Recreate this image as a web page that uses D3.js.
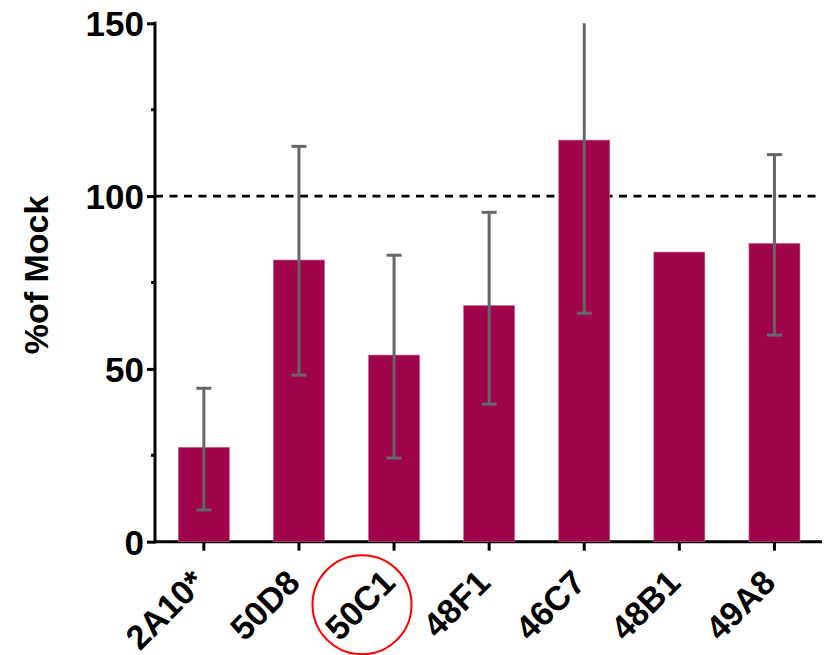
<!DOCTYPE html>
<html>
<head>
<meta charset="utf-8">
<script src="https://cdnjs.cloudflare.com/ajax/libs/d3/7.8.5/d3.min.js"></script>
<style>
  body { margin: 0; background: #fff; }
  svg text { font-family: Arial, "Liberation Sans", sans-serif; font-weight: bold; }
</style>
</head>
<body>
<svg id="chart" width="827" height="655"></svg>
<script>
// data
const categories = ['2A10*', '50D8', '50C1', '48F1', '46C7', '48B1', '49A8'];
const means = [27.3, 81.5, 54.0, 68.3, 116.2, 83.8, 86.3];
const errLow = [9.2, 48.2, 24.2, 39.8, 66.1, null, 59.8];
const errHigh = [44.4, 114.4, 82.9, 95.3, 166.3, null, 112.0];
const yTicks = [0, 50, 100, 150];
const yMinorTicks = [25, 75, 125];
const refLine = 100;
const circled = '50C1';

const width = 827, height = 655;
const margin = { top: 23.3, right: 5, bottom: 113.3, left: 155 };
const svg = d3.select('#chart');

const x = d3.scaleBand()
  .domain(categories)
  .range([margin.left + 1.3, width - margin.right])
  .paddingInner(0.464)
  .paddingOuter(0.232);

const y = d3.scaleLinear()
  .domain([0, 150])
  .range([height - margin.bottom, margin.top]);

const barColor = '#a0044b';
const errColor = '#666666';

// dashed reference line at 100%
svg.append('line')
  .attr('x1', margin.left).attr('x2', width - margin.right)
  .attr('y1', y(refLine)).attr('y2', y(refLine))
  .attr('stroke', '#000')
  .attr('stroke-width', 2.6)
  .attr('stroke-dasharray', '8,6.5');

// x axis
const xAxis = svg.append('g')
  .attr('transform', `translate(0,${y(0)})`)
  .call(d3.axisBottom(x).tickSize(9).tickSizeOuter(0).tickFormat(''));
xAxis.select('.domain').attr('stroke', '#000').attr('stroke-width', 3)
  .attr('d', `M${margin.left},0H${width - margin.right}`);
xAxis.selectAll('.tick line').attr('stroke', '#000').attr('stroke-width', 3);

// bars
svg.append('g')
  .selectAll('rect')
  .data(categories)
  .enter().append('rect')
  .attr('x', d => x(d))
  .attr('width', x.bandwidth())
  .attr('y', (d, i) => y(means[i]))
  .attr('height', (d, i) => y(0) - y(means[i]))
  .attr('fill', barColor)
  .attr('stroke', '#c0608a')
  .attr('stroke-width', 0.6);

// error bars
const capW = 15;
const err = svg.append('g');
categories.forEach((c, i) => {
  if (errLow[i] == null) return;
  const cx = x(c) + x.bandwidth() / 2;
  const hi = Math.min(errHigh[i], 150);
  err.append('line')
    .attr('x1', cx).attr('x2', cx)
    .attr('y1', y(errLow[i])).attr('y2', y(hi))
    .attr('stroke', errColor).attr('stroke-width', 3);
  err.append('line')
    .attr('x1', cx - capW / 2).attr('x2', cx + capW / 2)
    .attr('y1', y(errLow[i])).attr('y2', y(errLow[i]))
    .attr('stroke', errColor).attr('stroke-width', 3);
  if (errHigh[i] <= 150) {
    err.append('line')
      .attr('x1', cx - capW / 2).attr('x2', cx + capW / 2)
      .attr('y1', y(hi)).attr('y2', y(hi))
      .attr('stroke', errColor).attr('stroke-width', 3);
  }
});

// y axis
const yAxis = svg.append('g')
  .attr('transform', `translate(${margin.left},0)`)
  .call(d3.axisLeft(y).tickValues(yTicks).tickSize(8).tickSizeOuter(0).tickPadding(3));
yAxis.select('.domain').attr('stroke', '#000').attr('stroke-width', 3)
  .attr('d', `M0,${y(150) - 1.5}V${y(0) + 1.5}`);
yAxis.selectAll('.tick line').attr('stroke', '#000').attr('stroke-width', 3);
yAxis.selectAll('.tick text').attr('font-size', 35).attr('fill', '#000')
  .attr('dy', '0.36em');
yAxis.selectAll('.minor')
  .data(yMinorTicks)
  .enter().append('line')
  .attr('x1', -4).attr('x2', 0)
  .attr('y1', d => y(d)).attr('y2', d => y(d))
  .attr('stroke', '#000').attr('stroke-width', 3);

// y title
svg.append('text')
  .attr('transform', `translate(48,275) rotate(-90)`)
  .attr('text-anchor', 'middle')
  .attr('font-size', 34)
  .text('%of Mock');

// rotated category labels
svg.append('g')
  .selectAll('text')
  .data(categories)
  .enter().append('text')
  .attr('transform', d => `translate(${x(d) + x.bandwidth() / 2 + 3},${y(0) + 43}) rotate(-45)`)
  .attr('text-anchor', 'end')
  .attr('font-size', 34)
  .text(d => d);

// red circle around the highlighted clone
svg.append('circle')
  .attr('cx', x(circled) + x.bandwidth() / 2 - 32)
  .attr('cy', y(0) + 63)
  .attr('r', 49.5)
  .attr('fill', 'none')
  .attr('stroke', '#ff0000')
  .attr('stroke-width', 2);
</script>
</body>
</html>
